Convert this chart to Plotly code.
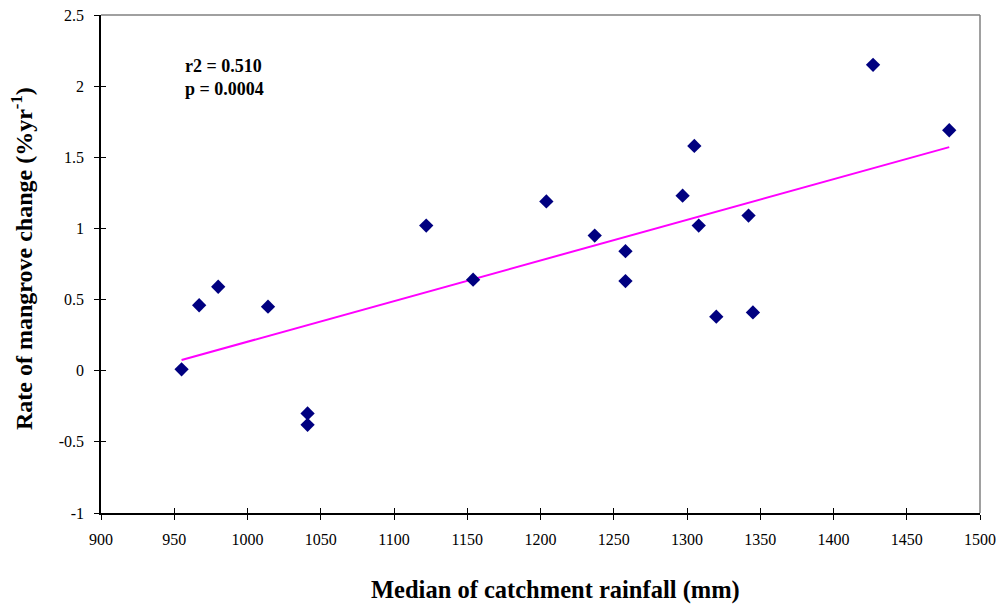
import numpy as np
import plotly.graph_objects as go

rainfall = [955, 967, 980, 1014, 1041, 1041, 1122, 1154, 1204, 1237, 1258, 1258,
            1297, 1305, 1308, 1320, 1342, 1345, 1427, 1479]
rate = [0.01, 0.46, 0.59, 0.45, -0.30, -0.38, 1.02, 0.64, 1.19, 0.95, 0.84, 0.63,
        1.23, 1.58, 1.02, 0.38, 1.09, 0.41, 2.15, 1.69]

x_ticks = [900, 950, 1000, 1050, 1100, 1150, 1200, 1250, 1300, 1350, 1400, 1450, 1500]
y_ticks = [-1, -0.5, 0, 0.5, 1, 1.5, 2, 2.5]
y_tick_labels = ["-1", "-0.5", "0", "0.5", "1", "1.5", "2", "2.5"]

stats_text = "r2 = 0.510<br>p = 0.0004"
x_title = "Median of catchment rainfall (mm)"
y_title = "Rate of mangrove change (%yr<sup>-1</sup>)"

slope, intercept = np.polyfit(rainfall, rate, 1)
fit_x = [min(rainfall), max(rainfall)]
fit_y = [slope * v + intercept for v in fit_x]

font_family = "Liberation Serif, Times New Roman, serif"

fig = go.Figure()
fig.add_trace(go.Scatter(x=fit_x, y=fit_y, mode="lines",
                         line=dict(color="#FF00FF", width=2), showlegend=False,
                         hoverinfo="skip"))
fig.add_trace(go.Scatter(x=rainfall, y=rate, mode="markers",
                         marker=dict(symbol="diamond", size=11, color="#000080"),
                         showlegend=False))
fig.add_trace(go.Scatter(x=[None], y=[None], xaxis="x2", yaxis="y2", showlegend=False))

fig.update_layout(
    width=999, height=608,
    margin=dict(l=101, r=19, t=15, b=95, autoexpand=False),
    paper_bgcolor="white", plot_bgcolor="white",
    font=dict(family=font_family, color="black", size=16),
    xaxis=dict(range=[900, 1500], tickvals=x_ticks, showgrid=False, zeroline=False,
               showline=True, linecolor="black", linewidth=1.5, automargin=False,
               ticks="outside", ticklen=5, tickcolor="black", tickwidth=1,
               tickfont=dict(size=16), ticklabelstandoff=6),
    yaxis=dict(range=[-1, 2.5], tickvals=y_ticks, ticktext=y_tick_labels,
               showgrid=False, zeroline=False, automargin=False,
               showline=True, linecolor="black", linewidth=1.5,
               ticks="outside", ticklen=5, tickcolor="black", tickwidth=1,
               tickfont=dict(size=16), ticklabelstandoff=7),
    xaxis2=dict(range=[900, 1500], tickvals=x_ticks, overlaying="x", showticklabels=False,
                showgrid=False, zeroline=False, ticks="inside", ticklen=5,
                tickcolor="black", tickwidth=1, side="bottom", anchor="y"),
    yaxis2=dict(range=[-1, 2.5], tickvals=y_ticks, overlaying="y", showticklabels=False,
                showgrid=False, zeroline=False, ticks="inside", ticklen=5,
                tickcolor="black", tickwidth=1, side="left", anchor="x"),
    shapes=[
        dict(type="line", xref="paper", yref="paper", x0=0, x1=1, y0=1, y1=1,
             line=dict(color="#808080", width=1.5)),
        dict(type="line", xref="paper", yref="paper", x0=1, x1=1, y0=0, y1=1,
             line=dict(color="#808080", width=1.5)),
    ],
    annotations=[
        dict(text="<b>" + stats_text + "</b>", xref="x", yref="y", x=956, y=2.06,
             xanchor="left", yanchor="middle", align="left", showarrow=False,
             font=dict(size=18, family=font_family)),
        dict(text="<b>" + x_title + "</b>", xref="paper", yref="paper",
             x=(555 - 101) / 879, y=-77 / 498, xanchor="center", yanchor="middle",
             showarrow=False, font=dict(size=24.5, family=font_family)),
        dict(text="<b>" + y_title + "</b>", xref="paper", yref="paper",
             x=-79 / 879, y=0.51, xanchor="center", yanchor="middle", showarrow=False,
             textangle=-90, font=dict(size=24, family=font_family)),
    ],
)

fig.write_html("out.html", config={"displayModeBar": False},
               post_script="document.body.style.margin='0';")
